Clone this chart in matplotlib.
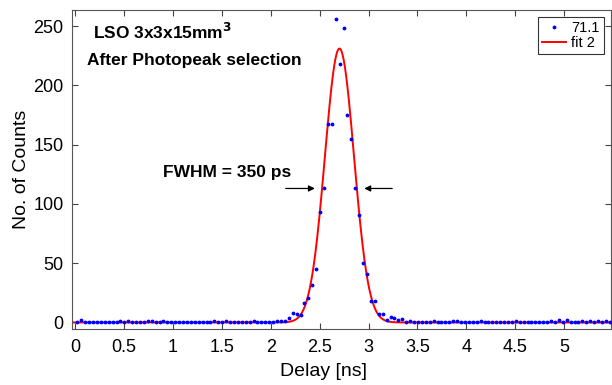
import numpy as np
import matplotlib
matplotlib.use("Agg")
import matplotlib.pyplot as plt

plt.rcParams['font.family'] = ['Liberation Sans', 'DejaVu Sans']

# histogram of delays, 40 ps bins
bin_start = 0.025
bin_width = 0.04
counts = [
    0, 2, 0, 0, 0, 0, 0, 0, 0, 0,
    0, 1, 0, 1, 0, 0, 0, 0, 1, 1,
    0, 0, 1, 0, 0, 0, 0, 0, 0, 0,
    0, 0, 0, 0, 0, 1, 0, 0, 1, 0,
    0, 0, 0, 0, 0, 1, 0, 0, 0, 0,
    0, 1, 1, 1, 4, 8, 7, 6, 16, 21,
    32, 45, 93, 113, 167, 167, 256, 218, 248, 175,
    155, 113, 91, 50, 41, 18, 18, 7, 7, 2,
    5, 4, 2, 3, 0, 1, 0, 0, 0, 0,
    0, 1, 0, 0, 0, 0, 1, 1, 0, 0,
    0, 0, 0, 1, 0, 0, 0, 0, 0, 0,
    0, 0, 1, 0, 0, 0, 0, 0, 0, 0,
    0, 1, 0, 2, 0, 2, 0, 0, 0, 1,
    0, 1, 0, 1, 0, 1, 0,
]
delay = bin_start + bin_width * np.arange(len(counts))

# gaussian fit ("fit 2")
fit_amp = 231.0
fit_mean = 2.703
fit_fwhm = 0.35
fit_sigma = fit_fwhm / (2 * np.sqrt(2 * np.log(2)))

xticks = [0, 0.5, 1, 1.5, 2, 2.5, 3, 3.5, 4, 4.5, 5]
xticklabels = ["0", "0.5", "1", "1.5", "2", "2.5", "3", "3.5", "4", "4.5", "5"]
yticks = [0, 50, 100, 150, 200, 250]

fig = plt.figure(figsize=(6.12, 3.85), dpi=100)
ax = fig.add_axes([0.1176, 0.1455, 0.8804, 0.8285])

xf = np.linspace(-0.03, 5.48, 1500)
yf = fit_amp * np.exp(-0.5 * ((xf - fit_mean) / fit_sigma) ** 2)

ax.plot(delay, counts, ".", color="#0000ff", markersize=3.5, label="71.1", zorder=3)
ax.plot(xf, yf, "-", color="#ff0000", lw=1.4, label="fit 2", zorder=2)

ax.set_xlim(-0.03, 5.475)
ax.set_ylim(-5.5, 263.5)
ax.set_xticks(xticks)
ax.set_xticklabels(xticklabels)
ax.set_yticks(yticks)
ax.tick_params(direction="in", top=True, right=True, length=4, width=0.8,
               color="#444444", labelsize=13)
ax.tick_params(axis="x", pad=7)
ax.tick_params(axis="y", pad=6)
for s in ax.spines.values():
    s.set_color("#555555")
    s.set_linewidth(0.8)

ax.set_xlabel("Delay [ns]", fontsize=14)
ax.set_ylabel("No. of Counts", fontsize=14)
ax.xaxis.set_label_coords(0.466, -0.132)
ax.xaxis.label.set_va("center")
ax.yaxis.set_label_coords(-0.093, 0.5)
ax.yaxis.label.set_va("center")

ax.text(0.184, 239.2, "LSO 3x3x15mm$^\\mathbf{3}$", fontsize=12.5, fontweight="bold",
        va="baseline", ha="left")
ax.text(0.126, 216.8, "After Photopeak selection", fontsize=12.5, fontweight="bold",
        va="baseline", ha="left")
ax.text(0.899, 122.3, "FWHM = 350 ps", fontsize=12.5, fontweight="bold",
        va="baseline", ha="left")

arrow = dict(arrowstyle="-|>", color="black", lw=0.9, mutation_scale=9)
ax.annotate("", xy=(2.48, 113), xytext=(2.125, 113), arrowprops=arrow)
ax.annotate("", xy=(2.928, 113), xytext=(3.27, 113), arrowprops=arrow)

leg = ax.legend(loc="upper right", fontsize=10.5, frameon=True, fancybox=False,
                handlelength=1.6, borderpad=0.3, labelspacing=0.05,
                handletextpad=0.4, borderaxespad=0.45, markerscale=1.0)
leg.get_frame().set_edgecolor("black")
leg.get_frame().set_linewidth(0.8)

fig.savefig("out.png", dpi=100)
